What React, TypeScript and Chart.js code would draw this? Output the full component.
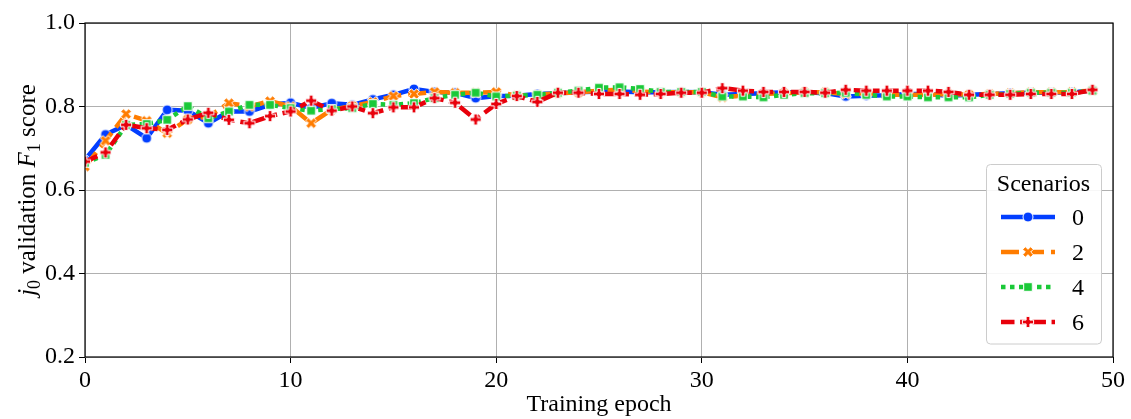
import React, { useEffect, useRef } from 'react';
import { Chart, registerables } from 'chart.js';

Chart.register(...registerables);

// Training epochs (x values)
const epochs = [
  0, 1, 2, 3, 4, 5, 6, 7, 8, 9, 10, 11, 12, 13, 14, 15, 16, 17, 18, 19, 20, 21, 22, 23, 24,
  25, 26, 27, 28, 29, 30, 31, 32, 33, 34, 35, 36, 37, 38, 39, 40, 41, 42, 43, 44, 45, 46, 47, 48, 49,
];

// Validation F1 per epoch, one list per scenario
const scenario0 = [
  0.672, 0.733, 0.756, 0.724, 0.792, 0.79, 0.76, 0.788, 0.788, 0.804, 0.809, 0.796, 0.808, 0.804, 0.817,
  0.828, 0.842, 0.835, 0.833, 0.82, 0.825, 0.826, 0.83, 0.832, 0.834, 0.836, 0.836, 0.834, 0.834, 0.835,
  0.834, 0.828, 0.83, 0.832, 0.834, 0.834, 0.832, 0.824, 0.826, 0.827, 0.83, 0.83, 0.826, 0.828, 0.83,
  0.832, 0.833, 0.833, 0.834, 0.838,
];
const scenario2 = [
  0.656, 0.718, 0.782, 0.766, 0.736, 0.769, 0.776, 0.808, 0.8, 0.813, 0.8, 0.76, 0.792, 0.801, 0.811,
  0.825, 0.83, 0.835, 0.833, 0.833, 0.835, 0.826, 0.828, 0.832, 0.834, 0.838, 0.84, 0.836, 0.834, 0.834,
  0.834, 0.822, 0.826, 0.83, 0.832, 0.834, 0.834, 0.83, 0.832, 0.828, 0.828, 0.828, 0.83, 0.828, 0.83,
  0.832, 0.834, 0.834, 0.835, 0.838,
];
const scenario4 = [
  0.665, 0.684, 0.756, 0.758, 0.768, 0.801, 0.772, 0.788, 0.804, 0.804, 0.796, 0.79, 0.794, 0.796, 0.806,
  0.804, 0.808, 0.82, 0.828, 0.833, 0.824, 0.826, 0.828, 0.833, 0.838, 0.845, 0.846, 0.842, 0.835, 0.835,
  0.835, 0.824, 0.824, 0.822, 0.828, 0.832, 0.832, 0.833, 0.828, 0.824, 0.824, 0.822, 0.822, 0.822, 0.828,
  0.83, 0.833, 0.833, 0.833, 0.838,
];
const scenario6 = [
  0.668, 0.69, 0.756, 0.748, 0.744, 0.769, 0.785, 0.768, 0.76, 0.777, 0.788, 0.814, 0.79, 0.8, 0.784,
  0.798, 0.798, 0.82, 0.809, 0.769, 0.806, 0.825, 0.811, 0.833, 0.833, 0.83, 0.83, 0.828, 0.83, 0.833,
  0.833, 0.844, 0.838, 0.835, 0.835, 0.835, 0.833, 0.84, 0.838, 0.838, 0.838, 0.838, 0.835, 0.828, 0.828,
  0.828, 0.83, 0.83, 0.83, 0.84,
];

const scenarioNames = ['0', '2', '4', '6'];
const xTicks = [0, 10, 20, 30, 40, 50];
const yTicks = [0.2, 0.4, 0.6, 0.8, 1.0];

const SERIF = '"Liberation Serif", "Times New Roman", serif';
const FONT = `24px ${SERIF}`;
const LINE_W = 4.5;

type Shape = 'circle' | 'xfill' | 'square' | 'plusfill';

// Filled marker glyph with a thin white edge
function makeMarker(shape: Shape, color: string): HTMLCanvasElement {
  const size = 16;
  const c = document.createElement('canvas');
  c.width = size;
  c.height = size;
  const ctx = c.getContext('2d')!;
  const m = size / 2;
  ctx.fillStyle = color;
  ctx.strokeStyle = '#ffffff';
  ctx.lineWidth = 1;
  ctx.lineJoin = 'miter';
  ctx.beginPath();
  if (shape === 'circle') {
    ctx.arc(m, m, 5, 0, Math.PI * 2);
  } else if (shape === 'square') {
    ctx.rect(m - 4.3, m - 4.3, 8.6, 8.6);
  } else {
    const r = 5.6;
    const w = 1.9;
    const pts: [number, number][] = [
      [-w, -r], [w, -r], [w, -w], [r, -w], [r, w], [w, w],
      [w, r], [-w, r], [-w, w], [-r, w], [-r, -w], [-w, -w],
    ];
    const a = shape === 'xfill' ? Math.PI / 4 : 0;
    const ca = Math.cos(a);
    const sa = Math.sin(a);
    pts.forEach(([px, py], i) => {
      const x = m + px * ca - py * sa;
      const y = m + px * sa + py * ca;
      if (i === 0) ctx.moveTo(x, y);
      else ctx.lineTo(x, y);
    });
    ctx.closePath();
  }
  ctx.fill();
  ctx.stroke();
  return c;
}

type Segment = { text: string; font: string; dy?: number };

function drawSegments(ctx: CanvasRenderingContext2D, segs: Segment[], cx: number, baseline: number) {
  let total = 0;
  segs.forEach((s) => {
    ctx.font = s.font;
    total += ctx.measureText(s.text).width;
  });
  let x = cx - total / 2;
  ctx.textAlign = 'left';
  ctx.textBaseline = 'alphabetic';
  segs.forEach((s) => {
    ctx.font = s.font;
    ctx.fillText(s.text, x, baseline + (s.dy || 0));
    x += ctx.measureText(s.text).width;
  });
}

export default function App() {
  const canvasRef = useRef<HTMLCanvasElement | null>(null);

  useEffect(() => {
    const canvas = canvasRef.current;
    if (!canvas) return;

    const colors = ['#023eff', '#ff7c00', '#1ac938', '#e8000b'];
    const shapes: Shape[] = ['circle', 'xfill', 'square', 'plusfill'];
    const dashes = [[], [18, 7], [4.5, 4.5], [13.5, 5.6, 6.75, 5.6]];
    const values = [scenario0, scenario2, scenario4, scenario6];
    const markers = shapes.map((s, i) => makeMarker(s, colors[i]));

    const datasets = values.map((vals, i) => ({
      label: scenarioNames[i],
      data: epochs.map((e, j) => ({ x: e, y: vals[j] })),
      borderColor: colors[i],
      backgroundColor: colors[i],
      borderWidth: LINE_W,
      borderDash: dashes[i],
      borderCapStyle: 'butt' as const,
      borderJoinStyle: 'round' as const,
      pointStyle: markers[i],
      pointRadius: 5,
      tension: 0,
      order: 3 - i,
    }));

    const overlay = {
      id: 'overlay',
      afterDraw(chart: any) {
        const ctx: CanvasRenderingContext2D = chart.ctx;
        const a = chart.chartArea;
        ctx.save();

        // axes frame
        ctx.strokeStyle = '#000000';
        ctx.lineWidth = 1.2;
        ctx.strokeRect(a.left, a.top, a.right - a.left, a.bottom - a.top);

        // axis titles
        ctx.fillStyle = '#000000';
        drawSegments(ctx, [{ text: 'Training epoch', font: FONT }], (a.left + a.right) / 2, 411);

        ctx.save();
        ctx.translate(35, (a.top + a.bottom) / 2);
        ctx.rotate(-Math.PI / 2);
        drawSegments(
          ctx,
          [
            { text: 'j', font: `italic 25px ${SERIF}` },
            { text: '0', font: `18px ${SERIF}`, dy: 5 },
            { text: ' validation ', font: `25px ${SERIF}` },
            { text: 'F', font: `italic 25px ${SERIF}` },
            { text: '1', font: `18px ${SERIF}`, dy: 5 },
            { text: ' score', font: `25px ${SERIF}` },
          ],
          0,
          0,
        );
        ctx.restore();

        // legend box
        const bx = 986.5;
        const by = 164.5;
        const bw = 115;
        const bh = 179.5;
        const r = 4;
        ctx.beginPath();
        ctx.moveTo(bx + r, by);
        ctx.lineTo(bx + bw - r, by);
        ctx.arcTo(bx + bw, by, bx + bw, by + r, r);
        ctx.lineTo(bx + bw, by + bh - r);
        ctx.arcTo(bx + bw, by + bh, bx + bw - r, by + bh, r);
        ctx.lineTo(bx + r, by + bh);
        ctx.arcTo(bx, by + bh, bx, by + bh - r, r);
        ctx.lineTo(bx, by + r);
        ctx.arcTo(bx, by, bx + r, by, r);
        ctx.closePath();
        ctx.fillStyle = 'rgba(255,255,255,0.9)';
        ctx.fill();
        ctx.strokeStyle = '#cccccc';
        ctx.lineWidth = 1;
        ctx.stroke();

        ctx.fillStyle = '#000000';
        ctx.font = FONT;
        ctx.textAlign = 'center';
        ctx.textBaseline = 'alphabetic';
        ctx.fillText('Scenarios', 1043.5, 191);

        const rowY = [217, 252, 287, 322];
        scenarioNames.forEach((name, i) => {
          const y = rowY[i];
          ctx.save();
          ctx.strokeStyle = colors[i];
          ctx.lineWidth = LINE_W;
          ctx.lineCap = 'butt';
          ctx.setLineDash(dashes[i]);
          ctx.beginPath();
          ctx.moveTo(1001, y);
          ctx.lineTo(1055, y);
          ctx.stroke();
          ctx.restore();
          const mk = markers[i];
          ctx.drawImage(mk, 1028 - mk.width / 2, y - mk.height / 2);
          ctx.fillStyle = '#000000';
          ctx.font = FONT;
          ctx.textAlign = 'left';
          ctx.fillText(name, 1072, y + 8);
        });

        ctx.restore();
      },
    };

    const chart = new Chart(canvas, {
      type: 'line',
      data: { datasets },
      options: {
        animation: false,
        responsive: false,
        devicePixelRatio: 1,
        events: [],
        layout: { padding: { left: 0, right: 18, top: 23, bottom: 0 } },
        plugins: {
          legend: { display: false },
          tooltip: { enabled: false },
          title: { display: false },
        },
        scales: {
          x: {
            type: 'linear',
            min: 0,
            max: 50,
            afterFit: (s: any) => {
              s.height = 62;
            },
            afterBuildTicks: (s: any) => {
              s.ticks = xTicks.map((v) => ({ value: v }));
            },
            ticks: {
              color: '#000000',
              font: { family: SERIF, size: 24 },
              padding: 3,
              maxRotation: 0,
              callback: (v: any) => String(v),
            },
            grid: {
              color: '#b0b0b0',
              lineWidth: 1,
              tickColor: '#000000',
              tickLength: 6,
              drawTicks: true,
            },
            border: { display: false },
          },
          y: {
            type: 'linear',
            min: 0.2,
            max: 1.0,
            afterFit: (s: any) => {
              s.width = 85;
            },
            afterBuildTicks: (s: any) => {
              s.ticks = yTicks.map((v) => ({ value: v }));
            },
            ticks: {
              color: '#000000',
              font: { family: SERIF, size: 24 },
              padding: 4,
              callback: (v: any) => Number(v).toFixed(1),
            },
            grid: {
              color: '#b0b0b0',
              lineWidth: 1,
              tickColor: '#000000',
              tickLength: 6,
              drawTicks: true,
            },
            border: { display: false },
          },
        },
      },
      plugins: [overlay],
    } as any);

    let alive = true;
    if ((document as any).fonts && (document as any).fonts.ready) {
      (document as any).fonts.ready.then(() => {
        if (alive) chart.update();
      });
    }

    return () => {
      alive = false;
      chart.destroy();
    };
  }, []);

  return (
    <div style={{ position: 'fixed', left: 0, top: 0, width: 1131, height: 419, background: '#ffffff' }}>
      <canvas ref={canvasRef} width={1131} height={419} style={{ display: 'block' }} />
    </div>
  );
}
